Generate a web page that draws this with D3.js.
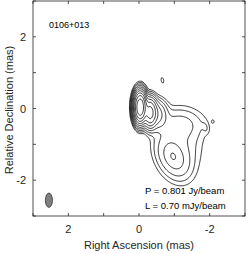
<!DOCTYPE html>
<html>
<head>
<meta charset="utf-8">
<script src="https://cdn.jsdelivr.net/npm/d3@7"></script>
<style>
  body { margin: 0; background: #fff; }
  svg { display: block; font-family: "Liberation Sans", Arial, sans-serif; }
</style>
</head>
<body>
<svg width="249" height="254"></svg>
<script>
// Source label and map info
const sourceName = "0106+013";
const peakText = "P = 0.801 Jy/beam";
const lowText = "L = 0.70 mJy/beam";

// Axis ticks (mas)
const tickValues = [-3, -2, -1, 0, 1, 2, 3];
const tickLabels = [-2, 0, 2];

// Contour levels: L x 2^k (Jy/beam)
const levels = [0.0007, 0.0014, 0.0028, 0.0056, 0.0112, 0.0224, 0.0448, 0.0896, 0.1792, 0.3584, 0.7168];

// Gaussian components (x, y in mas; peak Jy/beam; FWHM in mas; PA deg)
const compX    = [-0.02, -0.30, -0.50, -1.10, -0.95, -0.95, -1.15, -0.65, -0.37, -1.87, -2.08];
const compY    = [ 0.05, -0.10, -0.15, -0.42, -1.35, -1.32, -1.00,  0.80,  1.19, -0.52, -0.35];
const compPeak = [0.70,  0.12,  0.015, 0.0028, 0.007, 0.0035, 0.0025, 0.0009, 0.00072, 0.0009, 0.00072];
const compMaj  = [0.46,  0.46,  0.50,  1.05,  0.85,  0.30,  1.30,  0.25,  0.12,  0.25,  0.10];
const compMin  = [0.19,  0.22,  0.35,  0.60,  0.55,  0.20,  0.90,  0.12,  0.08,  0.14,  0.08];
const compPA   = [0,     0,     0,     90,    30,    20,    0,     10,    0,     15,    0];

// Restoring beam
const beamX = 2.55, beamY = -2.56, beamMaj = 0.40, beamMin = 0.20, beamPA = 0;

const svg = d3.select("svg");
const x = d3.scaleLinear().domain([3, -3]).range([33, 245]);
const y = d3.scaleLinear().domain([-3, 3]).range([216, 1]);
const ink = "#262626";

// brightness on a grid
const n = 241, step = 6 / (n - 1);
const values = new Float64Array(n * n);
const k = 4 * Math.log(2);
for (let j = 0; j < n; j++) {
    const dy0 = 3 - j * step;
    for (let i = 0; i < n; i++) {
        const dx0 = 3 - i * step;
        let s = 0;
        for (let c = 0; c < compX.length; c++) {
            const t = compPA[c] * Math.PI / 180;
            const dx = dx0 - compX[c], dy = dy0 - compY[c];
            const u = dx * Math.sin(t) + dy * Math.cos(t);
            const v = dx * Math.cos(t) - dy * Math.sin(t);
            s += compPeak[c] * Math.exp(-k * (u * u / (compMaj[c] ** 2) + v * v / (compMin[c] ** 2)));
        }
        values[i + j * n] = s;
    }
}

const contours = d3.contours().size([n, n]).thresholds(levels)(values);
const proj = d3.geoTransform({
    point: function(px, py) {
        this.stream.point(x(3 - px * step), y(3 - py * step));
    }
});
const path = d3.geoPath(proj);

svg.append("g")
    .selectAll("path")
    .data(contours)
    .join("path")
    .attr("d", path)
    .attr("fill", "none")
    .attr("stroke", "#000")
    .attr("stroke-width", 0.8);

// beam
svg.append("ellipse")
    .attr("cx", x(beamX))
    .attr("cy", y(beamY))
    .attr("rx", Math.abs(x(beamMin / 2) - x(0)))
    .attr("ry", Math.abs(y(beamMaj / 2) - y(0)))
    .attr("transform", `rotate(${beamPA},${x(beamX)},${y(beamY)})`)
    .attr("fill", "#7f7f7f")
    .attr("stroke", "#333")
    .attr("stroke-width", 0.8);

// frame
const frame = svg.append("g").attr("stroke", ink).attr("stroke-width", 0.8);
frame.append("rect")
    .attr("x", 33).attr("y", 1)
    .attr("width", 212).attr("height", 215)
    .attr("fill", "none");

const tl = 3;
tickValues.forEach(t => {
    frame.append("line").attr("x1", x(t)).attr("x2", x(t)).attr("y1", 216).attr("y2", 216 - tl);
    frame.append("line").attr("x1", x(t)).attr("x2", x(t)).attr("y1", 1).attr("y2", 1 + tl);
    frame.append("line").attr("x1", 33).attr("x2", 33 + tl).attr("y1", y(t)).attr("y2", y(t));
    frame.append("line").attr("x1", 245).attr("x2", 245 - tl).attr("y1", y(t)).attr("y2", y(t));
});

svg.append("g").selectAll("text")
    .data(tickLabels)
    .join("text")
    .attr("x", d => x(d))
    .attr("y", 233)
    .attr("text-anchor", "middle")
    .attr("font-size", 11)
    .attr("fill", ink)
    .text(d => d);

svg.append("g").selectAll("text")
    .data(tickLabels)
    .join("text")
    .attr("x", 26)
    .attr("y", d => y(d) + 4)
    .attr("text-anchor", "end")
    .attr("font-size", 11)
    .attr("fill", ink)
    .text(d => d);

svg.append("text")
    .attr("x", 139).attr("y", 249)
    .attr("text-anchor", "middle")
    .attr("font-size", 11)
    .attr("fill", ink)
    .text("Right Ascension (mas)");

svg.append("text")
    .attr("transform", "translate(13,110) rotate(-90)")
    .attr("text-anchor", "middle")
    .attr("font-size", 11)
    .attr("fill", ink)
    .text("Relative Declination (mas)");

svg.append("text")
    .attr("x", 49).attr("y", 28)
    .attr("font-size", 9)
    .attr("fill", "#000")
    .text(sourceName);

svg.append("text")
    .attr("x", 145).attr("y", 194)
    .attr("font-size", 9.5)
    .attr("fill", "#000")
    .text(peakText);

svg.append("text")
    .attr("x", 145).attr("y", 209)
    .attr("font-size", 9.5)
    .attr("fill", "#000")
    .text(lowText);
</script>
</body>
</html>
